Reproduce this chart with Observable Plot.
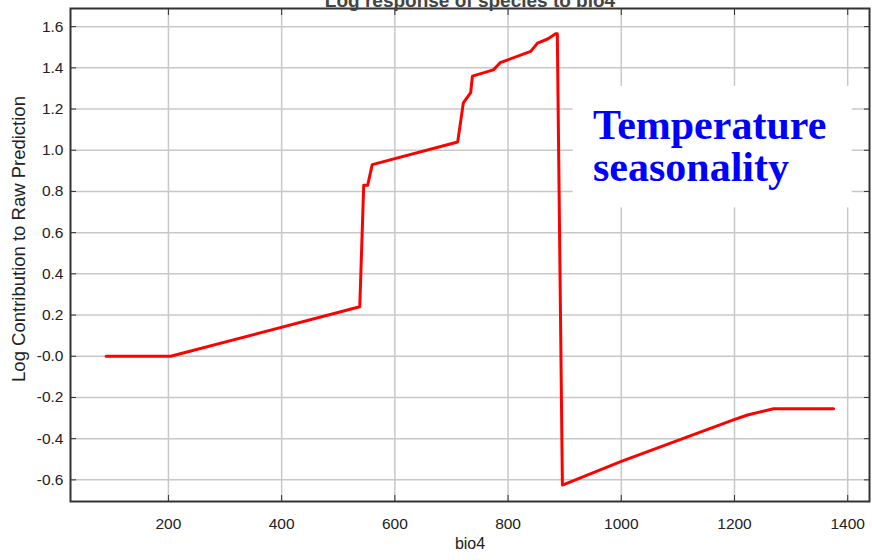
<!DOCTYPE html>
<html><head><meta charset="utf-8">
<script src="https://cdn.jsdelivr.net/npm/d3@7"></script>
<script src="https://cdn.jsdelivr.net/npm/@observablehq/plot@0.6"></script>
<style>
body{margin:0;background:#fff;}
#chart{width:872px;height:560px;overflow:hidden;}
#chart .tick-label, #chart .tick-label text { font-size: 15.5px !important; }
</style>
</head><body><div id="chart"></div>
<script>
const bio4 = [90, 204, 538, 545, 552, 560, 711, 721, 734, 737, 774, 781, 786, 840, 852, 870, 884, 887, 896, 1000, 1198, 1223, 1269, 1375];
const logContribution = [0.0, 0.0, 0.24, 0.83, 0.83, 0.93, 1.04, 1.23, 1.28, 1.36, 1.39, 1.41, 1.425, 1.48, 1.52, 1.54, 1.565, 1.565, -0.625, -0.51, -0.309, -0.285, -0.255, -0.255];
const xTicks = [200, 400, 600, 800, 1000, 1200, 1400];
const yTicks = [-0.6, -0.4, -0.2, 0, 0.2, 0.4, 0.6, 0.8, 1.0, 1.2, 1.4, 1.6];
const titleText = "Log response of species to bio4";
const xLabel = "bio4";
const yLabel = "Log Contribution to Raw Prediction";
const annotationLines = ["Temperature", "seasonality"];
const annotationX = [950, 950];
const annotationY = [1.122, 0.915];
const boxX = [915, 1408];
const boxY = [0.72, 1.31];

const data = bio4.map((x, i) => ({x, y: logContribution[i]}));
const box = [{x1: boxX[0], x2: boxX[1], y1: boxY[0], y2: boxY[1]}];
const yFmt = d => d === 0 ? "-0.0" : d.toFixed(1);

const plot = Plot.plot({
  width: 872, height: 560,
  marginLeft: 70, marginRight: 3, marginTop: 8, marginBottom: 59,
  x: {domain: [27, 1438.5]},
  y: {domain: [-0.705, 1.688]},
  style: {fontFamily: "'Liberation Sans', Arial, sans-serif", fontSize: "15px", color: "#222", background: "#fff"},
  marks: [
    Plot.gridX(xTicks, {stroke: "#c8c8c8", strokeOpacity: 1, strokeWidth: 1.5}),
    Plot.gridY(yTicks, {stroke: "#c8c8c8", strokeOpacity: 1, strokeWidth: 1.5}),
    Plot.rect(box, {x1: "x1", x2: "x2", y1: "y1", y2: "y2", fill: "white"}),
    Plot.line(data, {x: "x", y: "y", stroke: "#ff0000", strokeWidth: 3}),
    Plot.text(annotationLines, {x: (d, i) => annotationX[i], y: (d, i) => annotationY[i], text: d => d,
      textAnchor: "start", fill: "#0000ff", fontSize: 42, fontWeight: "bold",
      fontFamily: "'Liberation Serif', 'Times New Roman', serif"}),
    Plot.axisX(xTicks, {anchor: "bottom", tickSize: -6, stroke: "#333", label: null, tickFormat: () => ""}),
    Plot.axisX(xTicks, {anchor: "top", tickSize: -6, stroke: "#333", label: null, tickFormat: () => ""}),
    Plot.axisY(yTicks, {anchor: "left", tickSize: -6, stroke: "#333", label: null, tickFormat: () => ""}),
    Plot.axisY(yTicks, {anchor: "right", tickSize: -6, stroke: "#333", label: null, tickFormat: () => ""}),
    Plot.text(xTicks, {x: d => d, frameAnchor: "bottom", lineAnchor: "top", dy: 16, text: d => String(d), fontSize: 15.5, fill: "#222", className: "tick-label"}),
    Plot.text(yTicks, {y: d => d, frameAnchor: "left", textAnchor: "end", dx: -7, text: yFmt, fontSize: 15.5, fill: "#222", className: "tick-label"}),
    Plot.frame({stroke: "#333", strokeWidth: 2}),
    Plot.text([yLabel], {frameAnchor: "left", textAnchor: "middle", rotate: -90, dx: -51, dy: -16, fontSize: 18.5, fill: "#222"}),
    Plot.text([xLabel], {frameAnchor: "bottom", textAnchor: "middle", dy: 47, fontSize: 16, fill: "#222"}),
    Plot.text([titleText], {frameAnchor: "top", textAnchor: "middle", dy: -2, lineAnchor: "bottom", fontSize: 19, fontWeight: "bold", fill: "#444"})
  ]
});
document.getElementById("chart").appendChild(plot);
</script>
</body></html>
